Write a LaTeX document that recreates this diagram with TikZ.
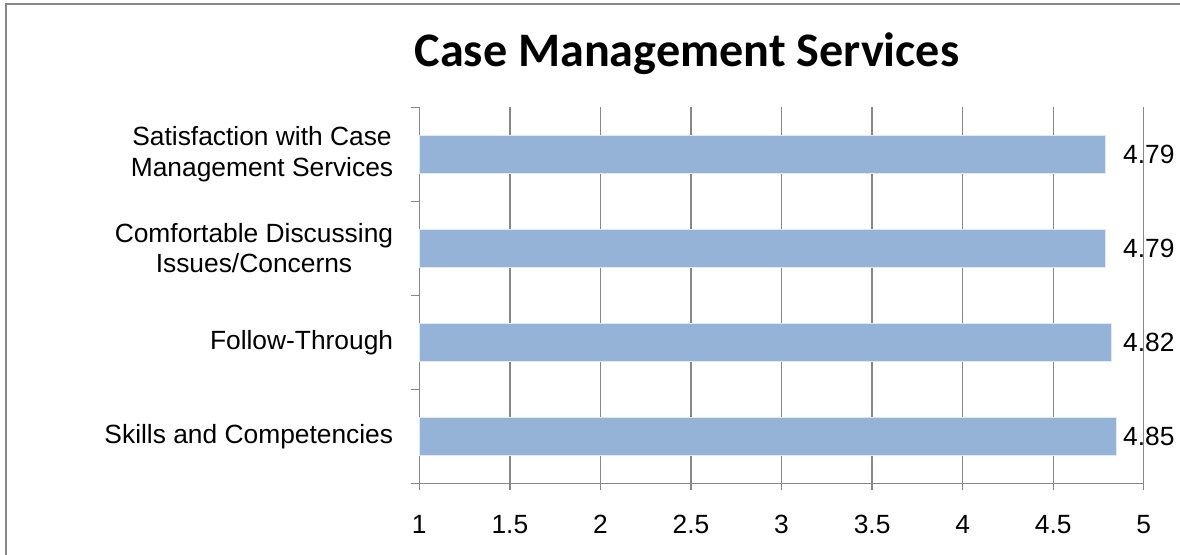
\documentclass[tikz,border=0pt]{standalone}
\usepackage{fontspec}
\setmainfont{Liberation Sans}
\newfontfamily\titlefont{Carlito}
\usepackage{tikz}

\definecolor{barblue}{HTML}{95B3D7}
\definecolor{gridgray}{HTML}{878787}

\begin{document}
\begin{tikzpicture}[x=3.622cm, y=1.88cm,
	gridline/.style={draw=gridgray, line width=0.8pt},
	barbox/.style={fill=barblue, draw=white!70!barblue, line width=0.4pt},
	catlabel/.style={anchor=east, align=center, font=\fontsize{15}{17.2}\selectfont},
	vallabel/.style={anchor=west, font=\fontsize{15}{17.2}\selectfont},
	ticklabel/.style={font=\fontsize{15}{17.2}\selectfont}]
	
	\useasboundingbox (-1.315,-0.752) rectangle (5.2,5.141);
	\draw[draw=gridgray, line width=1.1pt] (-1.282,-1) rectangle (6,5.099);
	
	\node (title) at (2.478,4.565){\titlefont\bfseries\fontsize{27.4}{32}\selectfont Case Management Services};
	
	% gridlines
	\draw[gridline] (1.5,0) -- (1.5,4) (2,0) -- (2,4) (2.5,0) -- (2.5,4) (3,0) -- (3,4)
		(3.5,0) -- (3.5,4) (4,0) -- (4,4) (4.5,0) -- (4.5,4) (5,0) -- (5,4);
	
	% axes and ticks
	\draw[gridline] (1,4) -- (1,0) -- (5,0);
	\draw[gridline] (1,0) -- ++(-4.5pt,0) (1,1) -- ++(-4.5pt,0) (1,2) -- ++(-4.5pt,0)
		(1,3) -- ++(-4.5pt,0) (1,4) -- ++(-4.5pt,0);
	\draw[gridline] (1,0) -- ++(0,-4pt) (1.5,0) -- ++(0,-4pt) (2,0) -- ++(0,-4pt)
		(2.5,0) -- ++(0,-4pt) (3,0) -- ++(0,-4pt) (3.5,0) -- ++(0,-4pt)
		(4,0) -- ++(0,-4pt) (4.5,0) -- ++(0,-4pt) (5,0) -- ++(0,-4pt);
	
	\node [ticklabel] (t1) at (1,-0.44){1};
	\node [ticklabel] (t15) at (1.5,-0.44){1.5};
	\node [ticklabel] (t2) at (2,-0.44){2};
	\node [ticklabel] (t25) at (2.5,-0.44){2.5};
	\node [ticklabel] (t3) at (3,-0.44){3};
	\node [ticklabel] (t35) at (3.5,-0.44){3.5};
	\node [ticklabel] (t4) at (4,-0.44){4};
	\node [ticklabel] (t45) at (4.5,-0.44){4.5};
	\node [ticklabel] (t5) at (5,-0.44){5};
	
	% bars
	\draw[barbox] (1,3.3) rectangle (4.79,3.7);
	\draw[barbox] (1,2.3) rectangle (4.79,2.7);
	\draw[barbox] (1,1.3) rectangle (4.82,1.7);
	\draw[barbox] (1,0.3) rectangle (4.85,0.7);
	
	\node [vallabel] (vsat) at (4.852,3.5){4.79};
	\node [vallabel] (vcom) at (4.852,2.5){4.79};
	\node [vallabel] (vfol) at (4.852,1.5){4.82};
	\node [vallabel] (vski) at (4.852,0.5){4.85};
	
	\node [catlabel] (sat) at (0.89,3.5){Satisfaction with Case\\Management Services};
	\node [catlabel] (com) at (0.89,2.5){Comfortable Discussing\\Issues/Concerns};
	\node [catlabel] (fol) at (0.89,1.5){Follow-Through};
	\node [catlabel] (ski) at (0.89,0.5){Skills and Competencies};
	
\end{tikzpicture}
\end{document}
